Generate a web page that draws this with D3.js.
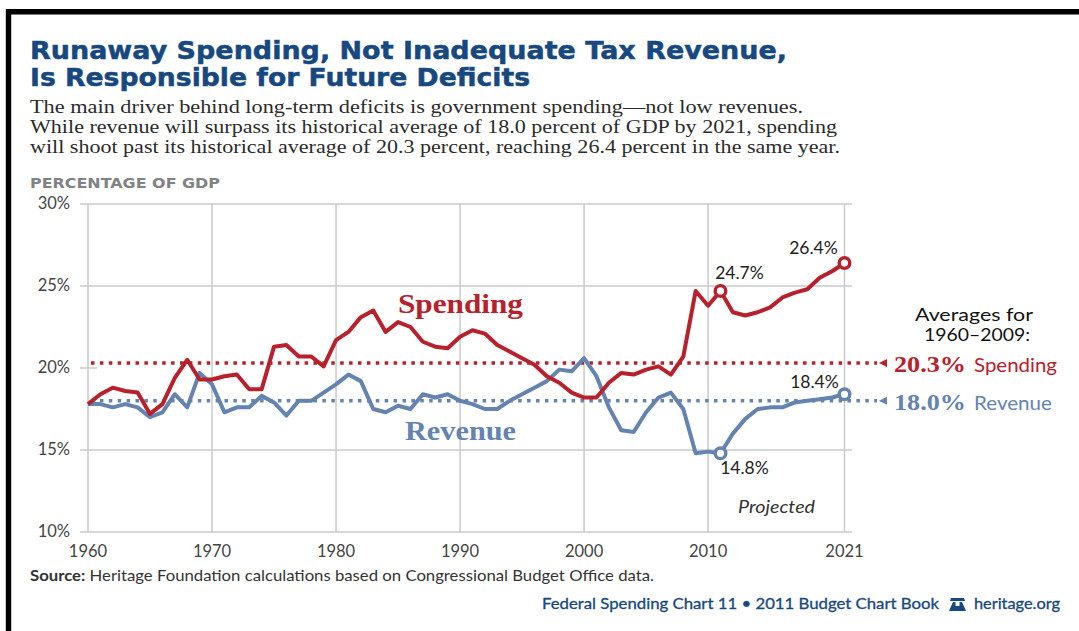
<!DOCTYPE html>
<html><head><meta charset="utf-8">
<script src="https://cdn.jsdelivr.net/npm/d3@7/dist/d3.min.js"></script>
<style>html,body{margin:0;padding:0;background:#fff}svg{display:block}</style>
</head><body><div id="chart"></div>
<script>
// Federal spending and revenue as a share of GDP, 1960-2021
const years = d3.range(1960, 2022);
const spending = [17.8,18.4,18.8,18.6,18.5,17.2,17.8,19.4,20.5,19.3,19.3,19.5,19.6,18.7,18.7,21.3,21.4,20.7,20.7,20.1,21.7,22.2,23.1,23.5,22.2,22.8,22.5,21.6,21.3,21.2,21.9,22.3,22.1,21.4,21.0,20.6,20.2,19.5,19.1,18.5,18.2,18.2,19.1,19.7,19.6,19.9,20.1,19.6,20.7,24.7,23.8,24.7,23.4,23.2,23.4,23.7,24.3,24.6,24.8,25.5,25.9,26.4];
const revenue = [17.8,17.8,17.6,17.8,17.6,17.0,17.3,18.4,17.6,19.7,19.0,17.3,17.6,17.6,18.3,17.9,17.1,18.0,18.0,18.5,19.0,19.6,19.2,17.5,17.3,17.7,17.5,18.4,18.2,18.4,18.0,17.8,17.5,17.5,18.0,18.4,18.8,19.2,19.9,19.8,20.6,19.5,17.6,16.2,16.1,17.3,18.2,18.5,17.5,14.8,14.9,14.8,16.0,16.9,17.5,17.6,17.6,17.9,18.0,18.1,18.2,18.4];
const spendingAverage = 20.3, revenueAverage = 18.0;
const xTicks = [1960,1970,1980,1990,2000,2010,2021];
const yTicks = [10,15,20,25,30];
const titleLines = ["Runaway Spending, Not Inadequate Tax Revenue,","Is Responsible for Future Deficits"];
const introLines = [
  "The main driver behind long-term deficits is government spending\u2014not low revenues.",
  "While revenue will surpass its historical average of 18.0 percent of GDP by 2021, spending",
  "will shoot past its historical average of 20.3 percent, reaching 26.4 percent in the same year."];
const callouts = [
  {year:2011, series:spending, dx:19,  dy:-12},
  {year:2021, series:spending, dx:-31, dy:-9},
  {year:2011, series:revenue,  dx:24,  dy:21},
  {year:2021, series:revenue,  dx:-30, dy:-6}];

const RED = "#b8202c", BLUE = "#6483b0", NAVY = "#17487f", SANS = "Lato, 'Open Sans', sans-serif", SERIF = "'Liberation Serif',serif";
const svg = d3.select("#chart").append("svg").attr("width",1079).attr("height",631);

// Black frame along the top and left edges
svg.append("path").attr("d","M8.5,631V11.8H1079").attr("fill","none").attr("stroke","#000").attr("stroke-width",5.4);

const x = d3.scaleLinear().domain([1960,2021]).range([88,844.5]);
const y = d3.scaleLinear().domain([10,30]).range([532,204]);

const text = (px,py,s,size,fill,extra={}) => {
  const t = svg.append("text").attr("x",px).attr("y",py).text(s)
    .attr("font-size",size).attr("fill",fill).attr("font-family",extra.family||SANS);
  if (extra.weight) t.attr("font-weight",extra.weight);
  if (extra.anchor) t.attr("text-anchor",extra.anchor);
  if (extra.style) t.attr("font-style",extra.style);
  if (extra.fit) t.attr("textLength",extra.fit).attr("lengthAdjust","spacingAndGlyphs");
  if (extra.stroke) t.attr("stroke",fill).attr("stroke-width",extra.stroke);
  return t;
};

titleLines.forEach((s,i)=>text(30,[59,85.5][i],s,25.6,NAVY,{family:"'DejaVu Sans',sans-serif",weight:"bold",fit:[757,500][i],stroke:0.5}));
introLines.forEach((s,i)=>text(30,[113,133,152.5][i],s,18.5,"#2b2b2b",{family:SERIF,fit:[773,807,810][i]}));
text(30,188,"PERCENTAGE OF GDP",13.6,"#808285",{family:"'DejaVu Sans',sans-serif",weight:"bold",fit:190});

// Gridlines; the 20% rule is only a stub because the spending average runs along it
const grid = svg.append("g").attr("stroke","#c9cacc").attr("stroke-width",1.5);
grid.selectAll("line.h").data(yTicks).join("line").attr("class","h")
  .attr("x1",80).attr("x2",d=>d===20?97:852).attr("y1",d=>y(d)).attr("y2",d=>y(d));
grid.selectAll("line.v").data(xTicks).join("line").attr("class","v")
  .attr("x1",d=>x(d)).attr("x2",d=>x(d)).attr("y1",y(30)).attr("y2",y(10));

// Axis labels
yTicks.forEach(d=>text(70,y(d)+5,d+"%",16.5,"#444",{anchor:"end"}));
xTicks.forEach(d=>text(x(d),557,d,16.5,"#444",{anchor:"middle"}));

// Historical averages
const averageLine = (v,color,label,name,labelFit,nameFit) => {
  svg.append("line").attr("x1",91).attr("x2",877).attr("y1",y(v)).attr("y2",y(v))
    .attr("stroke",color).attr("stroke-width",3.5).attr("stroke-dasharray","3.5 5.4");
  svg.append("path").attr("d",`M879,${y(v)}l8,-4v8z`).attr("fill",color);
  text(894,y(v)+9,label,24,color,{family:SERIF,weight:"bold",fit:labelFit});
  text(974,y(v)+9,name,20,color,{fit:nameFit});
};
averageLine(spendingAverage,RED,"20.3%","Spending",72,83);
averageLine(revenueAverage,BLUE,"18.0%","Revenue",72,78);

// Series lines
const line = s => d3.line().x((d,i)=>x(years[i])).y(d=>y(d))(s);
[[revenue,BLUE],[spending,RED]].forEach(([s,c])=>{
  svg.append("path").attr("d",line(s)).attr("fill","none").attr("stroke",c)
    .attr("stroke-width",4).attr("stroke-linejoin","round");
});

// Open markers and value labels
callouts.forEach(c=>{
  const v = c.series[years.indexOf(c.year)], color = c.series===spending?RED:BLUE;
  svg.append("circle").attr("cx",x(c.year)).attr("cy",y(v)).attr("r",5.3)
    .attr("fill","#fff").attr("stroke",color).attr("stroke-width",3.4);
  text(x(c.year)+c.dx,y(v)+c.dy,v.toFixed(1)+"%",17.5,"#222",{anchor:"middle"});
});

text(398,313,"Spending",26.5,RED,{family:SERIF,weight:"bold",fit:125});
text(405,440,"Revenue",26.5,BLUE,{family:SERIF,weight:"bold",fit:111});
text(738,513,"Projected",17,"#333",{style:"italic",fit:77});
text(915,320.5,"Averages for",16.6,"#111",{fit:118});
text(924,340.5,"1960\u20132009:",16.6,"#111",{fit:106});

const src = text(30,580.5,"",15,"#333",{fit:624});
src.append("tspan").attr("font-weight","bold").text("Source:");
src.append("tspan").text(" Heritage Foundation calculations based on Congressional Budget Office data.");
text(542,609,"Federal Spending Chart 11 \u2022 2011 Budget Chart Book",15,NAVY,{fit:397,stroke:0.3});
text(974,609,"heritage.org",15,NAVY,{fit:86,stroke:0.3});
// Liberty bell mark in the credit line
svg.append("path").attr("d","M951,598h13l1,3h-15z M953,602h2.5v4h4v-4h2.5l4,9h-17z").attr("fill",NAVY);
</script></body></html>
